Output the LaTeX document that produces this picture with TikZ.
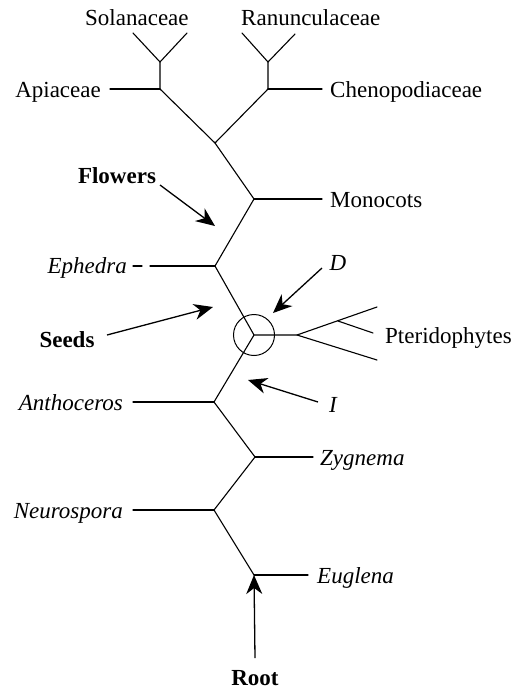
\documentclass[tikz,border=0pt]{standalone}
\usepackage{fontspec}
\setmainfont{Liberation Serif}
\usetikzlibrary{arrows.meta}
\begin{document}
\begin{tikzpicture}[x=1pt,y=-1pt,
  branch/.style={line width=1.1pt, line cap=round, line join=round},
  pointer/.style={line width=1.3pt, -{Stealth[length=19pt,width=16pt,inset=6pt]}},
  lbl/.style={font=\fontsize{23}{27}\selectfont, inner sep=0pt},
  ilbl/.style={lbl, font=\fontsize{23}{27}\selectfont\itshape},
  blbl/.style={lbl, font=\fontsize{23}{27}\selectfont\bfseries},
  ring/.style={draw, circle, minimum size=41pt, inner sep=0pt, line width=1pt}
]
\useasboundingbox (0,0) rectangle (517,691);

% junctions
\coordinate (E) at (254,575);
\coordinate (N) at (214,510);
\coordinate (Z) at (255,457);
\coordinate (A) at (214,402);
\coordinate (C) at (254,335);
\coordinate (P) at (297,335);
\coordinate (Pu) at (377,307);
\coordinate (Pl) at (377,360);
\coordinate (Ps) at (338,321);
\coordinate (Pm) at (373,333);
\coordinate (Eph) at (215,266);
\coordinate (M) at (254,199);
\coordinate (F) at (215,143);
\coordinate (Ap) at (160,89);
\coordinate (Ch) at (268,89);
\coordinate (SolV) at (160,62);
\coordinate (SolL) at (133,33);
\coordinate (SolR) at (187,33);
\coordinate (RanV) at (268,62);
\coordinate (RanL) at (242,33);
\coordinate (RanR) at (295,34);
% leaf ends
\coordinate (Eend) at (308,575);
\coordinate (Nend) at (133,510);
\coordinate (Zend) at (313,457);
\coordinate (Aend) at (133,402);
\coordinate (Ephend) at (133,266);
\coordinate (Mend) at (322,199);
\coordinate (Apend) at (110,89);
\coordinate (Chend) at (322,89);

% labels
\node[lbl, anchor=base west] (sol) at (85,25) {Solanaceae};
\node[lbl, anchor=base west] (ran) at (241,25) {Ranunculaceae};
\node[lbl, anchor=base east] (api) at (101,97) {Apiaceae};
\node[lbl, anchor=base west] (che) at (330,97) {Chenopodiaceae};
\node[lbl, anchor=base west] (mono) at (330,207) {Monocots};
\node[blbl, anchor=base] (flw) at (117,183) {Flowers};
\node[ilbl, anchor=base east] (ephl) at (127,273) {Ephedra};
\node[blbl, anchor=base] (seeds) at (67,347) {Seeds};
\node[ilbl, anchor=base] (dl) at (338,270) {D};
\node[lbl, anchor=base west] (pter) at (385,343) {Pteridophytes};
\node[ilbl, anchor=base] (il) at (333,412) {I};
\node[ilbl, anchor=base east] (anth) at (123,410) {Anthoceros};
\node[ilbl, anchor=base west] (zyg) at (320,465) {Zygnema};
\node[ilbl, anchor=base east] (neur) at (123,518) {Neurospora};
\node[ilbl, anchor=base west] (eug) at (317,583) {Euglena};
\node[blbl, anchor=base] (root) at (255,685) {Root};

% tree
\draw[branch] (E) -- (N) -- (Z) -- (A) -- (C) -- (Eph) -- (M) -- (F) -- (Ap) -- (SolV);
\draw[branch] (F) -- (Ch) -- (RanV);
\draw[branch] (SolL) -- (SolV) -- (SolR);
\draw[branch] (RanL) -- (RanV) -- (RanR);
\draw[branch] (E) -- (Eend);
\draw[branch] (N) -- (Nend);
\draw[branch] (Z) -- (Zend);
\draw[branch] (A) -- (Aend);
\draw[branch, dash pattern=on 9pt off 8pt on 200pt] (Ephend) -- (Eph);
\draw[branch] (M) -- (Mend);
\draw[branch] (Ap) -- (Apend);
\draw[branch] (Ch) -- (Chend);
\draw[branch] (C) -- (P) -- (Pu);
\draw[branch] (P) -- (Pl);
\draw[branch] (Ps) -- (Pm);
\node[ring] (circ) at (C) {};

% pointers
\coordinate (rootT) at (255,658);
\coordinate (flT) at (160,185);
\coordinate (flH) at (215,226);
\coordinate (seT) at (107,335);
\coordinate (seH) at (213,307);
\coordinate (dT) at (322,268);
\coordinate (dH) at (273,313);
\coordinate (iT) at (318,402);
\coordinate (iH) at (248,380);
\draw[pointer] (rootT) -- (E);
\draw[pointer] (flT) -- (flH);
\draw[pointer] (seT) -- (seH);
\draw[pointer] (dT) -- (dH);
\draw[pointer] (iT) -- (iH);
\end{tikzpicture}
\end{document}
